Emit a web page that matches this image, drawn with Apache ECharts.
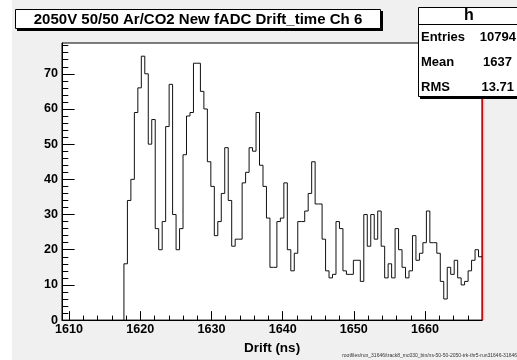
<!DOCTYPE html>
<html><head><meta charset="utf-8">
<script src="https://cdn.jsdelivr.net/npm/echarts@6/dist/echarts.min.js"></script>
<style>html,body{margin:0;padding:0;background:#f0f0f0;}#c{width:517px;height:360px;}</style>
</head><body><div id="c"></div>
<script>
// ---- data ----
const titleText = '2050V 50/50 Ar/CO2 New fADC Drift_time Ch 6';
const xTitle = 'Drift (ns)';
const xRange = [1609, 1668];
const yRange = [0, 78.75];
const binStart = 1617.7;   // left edge of first filled bin (ns)
const binEnd = 1668.0;     // right edge of last bin (ns)
const counts = [
  16, 34, 40, 59, 66, 75, 70, 50, 57, 26,
  20, 28, 55, 67, 30, 20, 26, 47, 58, 59,
  73, 73, 65, 60, 45, 38, 24, 28, 36, 49,
  34, 21, 23, 23, 39, 42, 49, 48, 59, 44,
  38, 29, 15, 15, 28, 29, 39, 20, 14, 19,
  28, 28, 31, 36, 45, 33, 33, 23, 14, 12,
  13, 28, 26, 14, 13, 13, 17, 17, 11, 30,
  21, 30, 23, 31, 21, 12, 16, 12, 26, 20,
  15, 12, 14, 24, 17, 19, 22, 31, 22, 22,
  19, 11, 6, 15, 13, 17, 12, 10, 11, 14,
  17, 20, 18
];
const xMajorTicks = [1610, 1620, 1630, 1640, 1650, 1660];
const xMinorTicks = [1612, 1614, 1616, 1618, 1622, 1624, 1626, 1628, 1632, 1634, 1636, 1638,
  1642, 1644, 1646, 1648, 1652, 1654, 1656, 1658, 1662, 1664, 1666];
const yMajorTicks = [0, 10, 20, 30, 40, 50, 60, 70];
const yMinorTicks = [2, 4, 6, 8, 12, 14, 16, 18, 22, 24, 26, 28, 32, 34, 36, 38, 42, 44, 46, 48,
  52, 54, 56, 58, 62, 64, 66, 68, 72, 74, 76, 78];
const statsName = 'h';
const statsLabels = ['Entries', 'Mean', 'RMS'];
const statsValues = ['10794', '1637', '13.71'];
const footText = 'rootfiles/run_31646/track8_mc030_bin/ns-50-50-2050-trk-thr5-run31646-31646';

// ---- build ----
const binWidth = (binEnd - binStart) / counts.length;
const histData = [[binStart, 0]];
counts.forEach((v, i) => histData.push([binStart + i * binWidth, v]));
histData.push([binEnd, counts[counts.length - 1]]);

const FF = '"Liberation Sans", Arial, Helvetica, sans-serif';
const chart = echarts.init(document.getElementById('c'), null, {renderer: 'canvas'});

const statRows = [];
statsLabels.forEach((lab, i) => {
  const y = 37 + i * 25;
  statRows.push({type: 'text', x: 421, y: y, z: 12,
    style: {text: lab, font: 'bold 13px ' + FF, fill: '#000', textAlign: 'left', textVerticalAlign: 'middle'}});
});
const valRight = [516, 512, 514];
statsValues.forEach((val, i) => {
  const y = 37 + i * 25;
  statRows.push({type: 'text', x: valRight[i], y: y, z: 12,
    style: {text: val, font: 'bold 13px ' + FF, fill: '#000', textAlign: 'right', textVerticalAlign: 'middle'}});
});

const option = {
  animation: false,
  backgroundColor: '#f0f0f0',
  grid: {left: 62, right: 35, top: 43, bottom: 33, show: true, backgroundColor: '#fff',
    borderColor: '#000', borderWidth: 1},
  xAxis: [
    {type: 'value', min: xRange[0], max: xRange[1], position: 'bottom',
      axisLine: {show: true, onZero: false, lineStyle: {color: '#000', width: 1}},
      axisTick: {show: true, inside: true, length: 9, customValues: xMajorTicks, lineStyle: {color: '#000'}},
      axisLabel: {show: true, customValues: xMajorTicks, margin: 3, color: '#000',
        fontFamily: FF, fontWeight: 'bold', fontSize: 12.6, formatter: v => String(v)},
      splitLine: {show: false},
      name: xTitle, nameLocation: 'middle', nameGap: 17,
      nameTextStyle: {color: '#000', fontFamily: FF, fontWeight: 'bold', fontSize: 13.5}},
    {type: 'value', min: xRange[0], max: xRange[1], position: 'bottom',
      axisLine: {show: false},
      axisTick: {show: true, inside: true, length: 4.5, customValues: xMinorTicks, lineStyle: {color: '#000'}},
      axisLabel: {show: false}, splitLine: {show: false}}
  ],
  yAxis: [
    {type: 'value', min: yRange[0], max: yRange[1], position: 'left',
      axisLine: {show: true, onZero: false, lineStyle: {color: '#000', width: 1}},
      axisTick: {show: true, inside: true, length: 12.6, customValues: yMajorTicks, lineStyle: {color: '#000'}},
      axisLabel: {show: true, customValues: yMajorTicks, margin: 4, color: '#000',
        fontFamily: FF, fontWeight: 'bold', fontSize: 12.6, formatter: v => String(v)},
      splitLine: {show: false}},
    {type: 'value', min: yRange[0], max: yRange[1], position: 'left',
      axisLine: {show: false},
      axisTick: {show: true, inside: true, length: 6.3, customValues: yMinorTicks, lineStyle: {color: '#000'}},
      axisLabel: {show: false}, splitLine: {show: false}},
    {type: 'value', min: yRange[0], max: yRange[1], position: 'right',
      axisLine: {show: true, onZero: false, lineStyle: {color: '#e00000', width: 1.2}},
      axisTick: {show: false}, axisLabel: {show: false}, splitLine: {show: false}}
  ],
  series: [{
    type: 'line', step: 'end', data: histData, xAxisIndex: 0, yAxisIndex: 0,
    showSymbol: false, symbol: 'none', clip: true,
    lineStyle: {color: '#111', width: 1}
  }],
  graphic: [
    {type: 'rect', shape: {x: 0, y: 0, width: 12, height: 360}, style: {fill: '#fff'}, z: 1},
    // title box with shadow
    {type: 'rect', shape: {x: 17, y: 11, width: 366, height: 20}, style: {fill: '#000'}, z: 10},
    {type: 'rect', shape: {x: 15.5, y: 9.5, width: 365, height: 19}, style: {fill: '#fff', stroke: '#000', lineWidth: 1}, z: 11},
    {type: 'text', x: 198, y: 19.5, z: 12,
      style: {text: titleText, font: 'bold 15px ' + FF, fill: '#000', textAlign: 'center', textVerticalAlign: 'middle'}},
    // stats box with shadow
    {type: 'rect', shape: {x: 420, y: 9, width: 120, height: 90}, style: {fill: '#000'}, z: 10},
    {type: 'rect', shape: {x: 418.5, y: 7.5, width: 120, height: 89}, style: {fill: '#fff', stroke: '#000', lineWidth: 1}, z: 11},
    {type: 'line', shape: {x1: 418, y1: 24.5, x2: 517, y2: 24.5}, style: {stroke: '#000', lineWidth: 1}, z: 12},
    {type: 'text', x: 469, y: 16, z: 12,
      style: {text: statsName, font: 'bold 16px ' + FF, fill: '#000', textAlign: 'center', textVerticalAlign: 'middle'}},
    ...statRows,
    {type: 'text', x: 517, y: 356, z: 12,
      style: {text: footText, font: '5px ' + FF, fill: '#333', textAlign: 'right', textVerticalAlign: 'middle'}}
  ]
};
chart.setOption(option);
</script>
</body></html>
